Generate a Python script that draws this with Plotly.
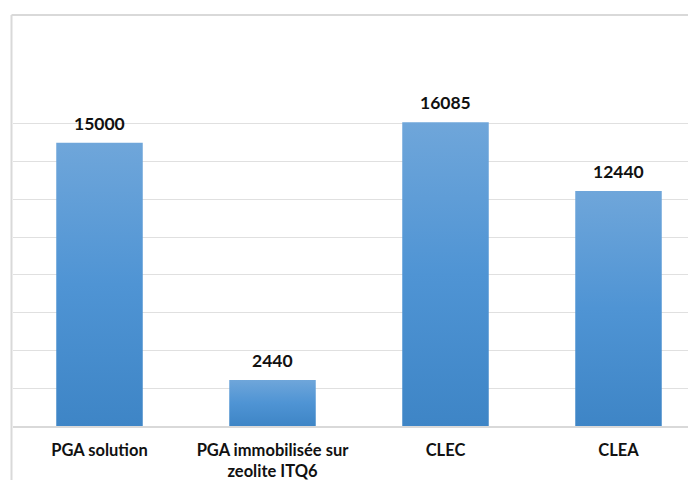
import plotly.graph_objects as go

categories = ["PGA solution", "PGA immobilisée sur<br>zeolite ITQ6", "CLEC", "CLEA"]
values = [15000, 2440, 16085, 12440]
y_ticks = list(range(0, 18001, 2000))

fig = go.Figure()
half = 0.25
for i, v in enumerate(values):
    fig.add_trace(go.Scatter(
        x=[i - half, i + half, i + half, i - half, i - half],
        y=[0, 0, v, v, 0],
        fill="toself", mode="lines",
        line=dict(width=0, color="rgba(0,0,0,0)"),
        fillgradient=dict(type="vertical",
                          colorscale=[[0, "#3E85C6"], [0.5, "#4F94D4"], [1, "#6FA6DA"]]),
        hoverinfo="skip", showlegend=False))

for i, v in enumerate(values):
    fig.add_annotation(x=i, y=v, text=str(v), showarrow=False,
                       yanchor="bottom", yshift=7,
                       font=dict(family="Lato", size=17.5, color="#111111", weight="bold"))

# page offset (body margin of the html page)
OFF = 8
W, H = 696 - OFF, 480 - OFF
ml, mr, mt, mb = 13 - OFF, 0, 86 - OFF, 54
pw, ph = W - ml - mr, H - mt - mb

def px(xp):
    return (xp - OFF - ml) / pw

def py(yp):
    return (H - mb - (yp - OFF)) / ph

fig.add_shape(type="line", xref="paper", yref="paper",
              x0=px(11.5), x1=px(11.5), y0=py(482), y1=py(15),
              line=dict(color="#D9D9D9", width=2))
fig.add_shape(type="line", xref="paper", yref="paper",
              x0=px(11.5), x1=px(700), y0=py(15), y1=py(15),
              line=dict(color="#D9D9D9", width=2))

fig.update_layout(
    width=W, height=H,
    margin=dict(l=ml, r=mr, t=mt, b=mb),
    paper_bgcolor="white", plot_bgcolor="white",
    showlegend=False,
    xaxis=dict(range=[-0.5, -0.5 + pw / 173.0], tickmode="array",
               tickvals=list(range(len(categories))), ticktext=categories,
               showgrid=False, zeroline=False, showline=True,
               linecolor="#D9D9D9", linewidth=2, ticks="",
               ticklabelstandoff=8,
               tickfont=dict(family="Lato", size=16.5, color="#111111", weight="bold")),
    yaxis=dict(range=[0, 18000], tickmode="array", tickvals=y_ticks,
               showticklabels=False, showgrid=True, gridcolor="#E0E0E0",
               gridwidth=1, zeroline=False, showline=False),
)

fig.write_html("out.html")
